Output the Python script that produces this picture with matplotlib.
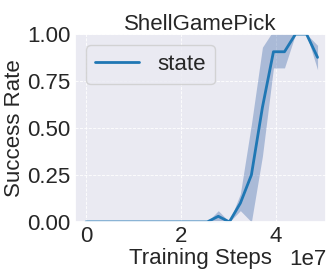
import numpy as np
import matplotlib
matplotlib.use("Agg")
import matplotlib.pyplot as plt
import seaborn as sns

sns.set_theme(style="darkgrid")
plt.rcParams['font.family'] = ['Liberation Sans', 'DejaVu Sans']

# training steps (every ~2.32e6 steps)
steps = np.arange(22) * 2.32e6
mean = [0, 0, 0, 0, 0, 0, 0, 0, 0, 0, 0, 0, 0.03, 0.0, 0.10, 0.25,
        0.61, 0.906, 0.906, 1.0, 1.0, 0.876]
lower = [0, 0, 0, 0, 0, 0, 0, 0, 0, 0, 0, 0, 0.0, 0.0, 0.06, 0.0,
         0.35, 0.82, 0.82, 1.0, 1.0, 0.81]
upper = [0, 0, 0, 0, 0, 0, 0, 0, 0, 0, 0, 0, 0.06, 0.0, 0.15, 0.52,
         0.93, 1.02, 1.02, 1.0, 1.0, 0.94]

fig = plt.figure(figsize=(3.32, 2.75), dpi=100)
ax = fig.add_axes([0.226, 0.193, 0.756, 0.683])

ax.fill_between(steps, lower, upper, color='#4C72B0', alpha=0.4, linewidth=0)
ax.plot(steps, mean, color='#1f77b4', linewidth=2, label='state')

ax.set_xlim(-0.23e7, 5.05e7)
ax.set_ylim(0, 1.0)
ax.set_yticks([0, 0.25, 0.5, 0.75, 1.0])
ax.set_xticks([0, 2e7, 4e7])
ax.grid(True, linestyle='--', linewidth=0.6, color='white')

fs = 16
ax.set_title('ShellGamePick', fontsize=fs, pad=3)
ax.set_xlabel('Training Steps', fontsize=fs, labelpad=1)
ax.set_ylabel('Success Rate', fontsize=fs, labelpad=2)
ax.tick_params(labelsize=fs, pad=3, length=0)

ax.legend(loc='upper left', fontsize=fs)

# put the 1e7 offset on the same line as the x label
fig.canvas.draw()
off = ax.xaxis.get_offset_text().get_text()
ax.xaxis.get_offset_text().set_visible(False)
ax.text(1.0, -0.229, off, transform=ax.transAxes, ha='right', va='baseline',
        fontsize=fs)

fig.savefig('out.png', dpi=100)
